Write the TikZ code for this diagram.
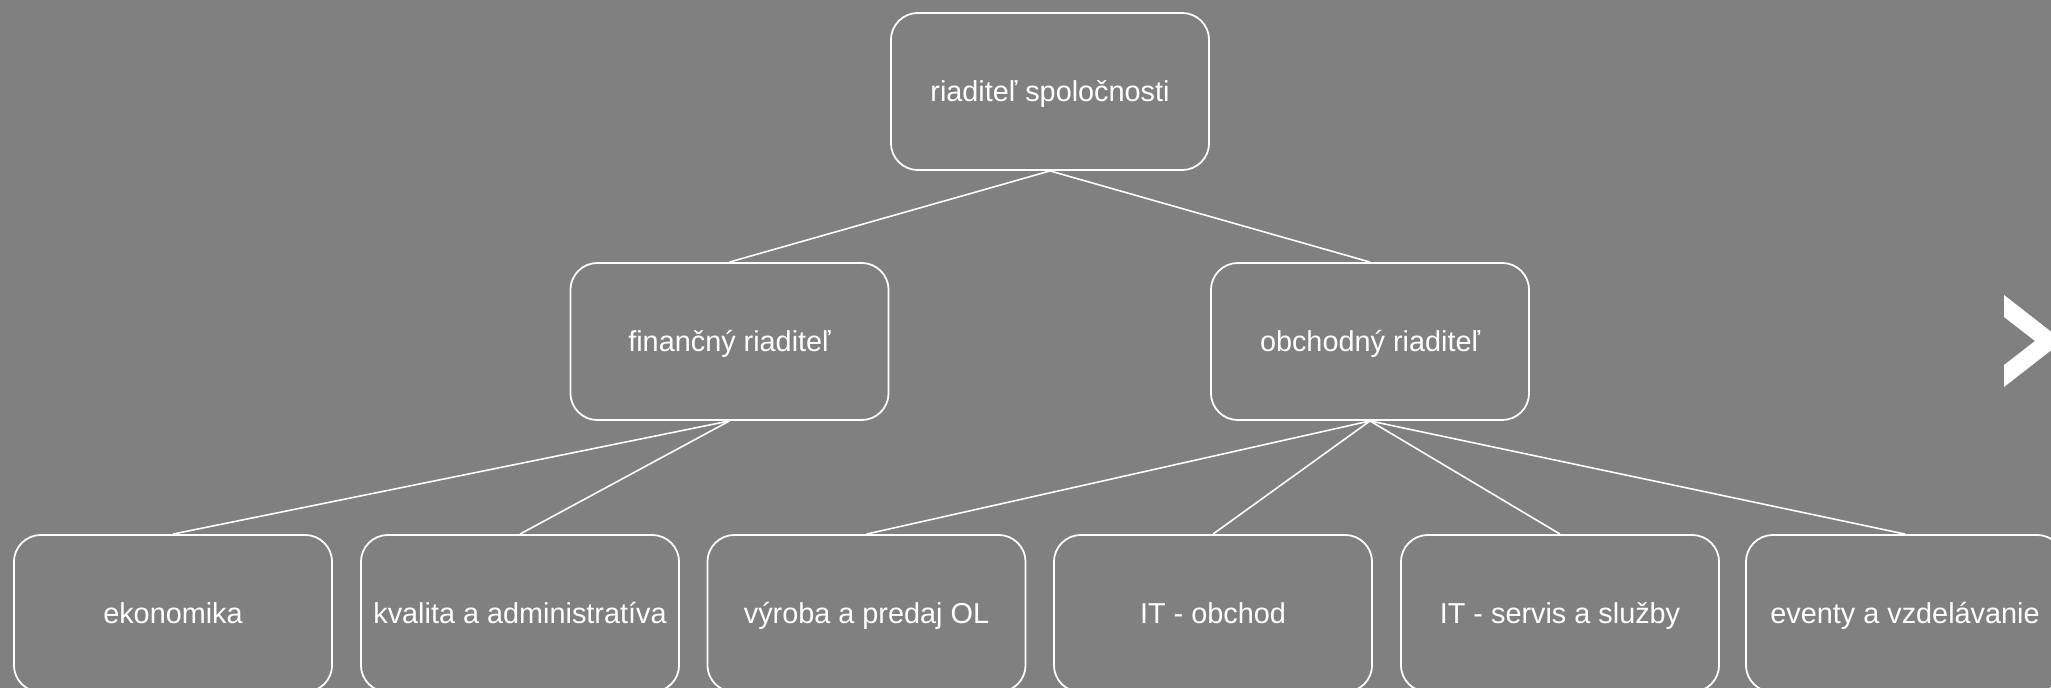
\documentclass[tikz,border=0pt]{standalone}
\usepackage{fontspec}
\setmainfont{Liberation Sans}
\begin{document}
\begin{tikzpicture}[x=0.01cm,y=-0.01cm,
    box/.style={draw=white, line width=0.5pt, rounded corners=0.27cm, minimum width=3.18cm, minimum height=1.57cm, inner sep=0pt, text height=1.2ex, text depth=0.1ex, text=white, font=\fontsize{8.2}{10}\selectfont},
    link/.style={draw=white, line width=0.45pt}]
            \fill[gray] (0,0) rectangle (2051,688);
            \useasboundingbox (0,0) rectangle (2051,688);

            \node[box] (ceo) at (1050,91.5) {riaditeľ spoločnosti};
            \node[box] (fin) at (729.5,341.5) {finančný riaditeľ};
            \node[box] (obch) at (1370,341.5) {obchodný riaditeľ};

            \node[box] (eko) at (173,613.5) {ekonomika};
            \node[box] (kval) at (520,613.5) {kvalita a administratíva};
            \node[box] (vyr) at (866.5,613.5) {výroba a predaj OL};
            \node[box] (itob) at (1213,613.5) {IT - obchod};
            \node[box] (itser) at (1560,613.5) {IT - servis a služby};
            \node[box] (event) at (1905,613.5) {eventy a vzdelávanie};

            \draw[link] (ceo.south) -- (fin.north);
            \draw[link] (ceo.south) -- (obch.north);
            \draw[link] (fin.south) -- (eko.north);
            \draw[link] (fin.south) -- (kval.north);
            \draw[link] (obch.south) -- (vyr.north);
            \draw[link] (obch.south) -- (itob.north);
            \draw[link] (obch.south) -- (itser.north);
            \draw[link] (obch.south) -- (event.north);

            % next arrow
            \fill[white] (2004,295) -- (2063,341) -- (2004,387) -- (2004,365) -- (2035,341) -- (2004,317) -- cycle;
        \end{tikzpicture}
\end{document}
